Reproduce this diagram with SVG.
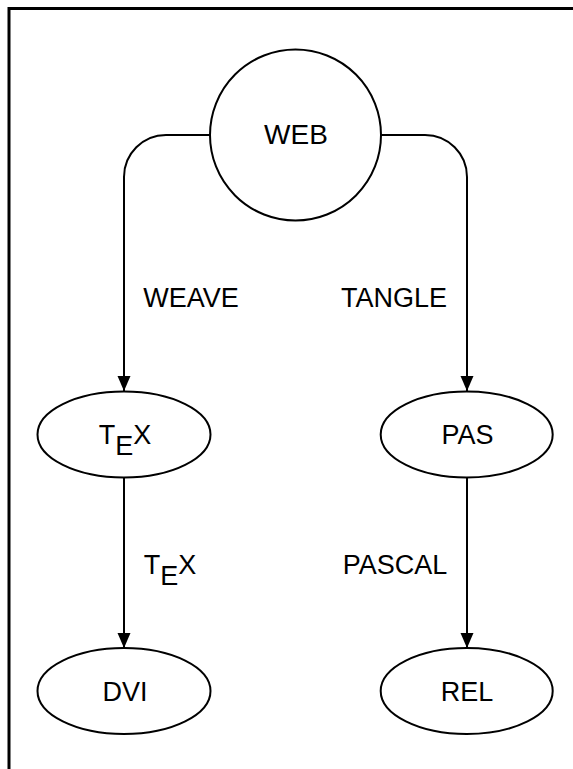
<svg xmlns="http://www.w3.org/2000/svg" width="573" height="769" viewBox="0 0 573 769">
  <style>
    .shape { fill: #ffffff; stroke: #000000; stroke-width: 2; }
    .edge { fill: none; stroke: #000000; stroke-width: 2; }
    .label { font-family: "Liberation Sans", Arial, sans-serif; font-size: 27px; fill: #000000; text-anchor: middle; }
  </style>
  <defs>
    <marker id="arrow" markerUnits="userSpaceOnUse" markerWidth="16" markerHeight="14" refX="15" refY="6.5" orient="auto">
      <path d="M0,0 L15,6.5 L0,13 Z" fill="#000000"/>
    </marker>
  </defs>
  <rect width="573" height="769" fill="#ffffff"/>

  <!-- frame -->
  <path d="M9,769 V8.5 H573" fill="none" stroke="#000000" stroke-width="3"/>

  <!-- connectors -->
  <g id="connectors">
    <path class="edge" d="M210,135 H166 A42,42 0 0 0 124,177 V391" marker-end="url(#arrow)"/>
    <path class="edge" d="M381,135 H425 A42,42 0 0 1 467,177 V391" marker-end="url(#arrow)"/>
    <path class="edge" d="M124,477 V648" marker-end="url(#arrow)"/>
    <path class="edge" d="M467,477 V648" marker-end="url(#arrow)"/>
    <text class="label" x="191" y="307">WEAVE</text>
    <text class="label" x="394" y="307">TANGLE</text>
    <text class="label" x="170" y="574">T<tspan dy="11">E</tspan><tspan dy="-11">X</tspan></text>
    <text class="label" x="395" y="574">PASCAL</text>
  </g>

  <g id="web">
    <circle class="shape" cx="295.5" cy="135" r="85.5"/>
    <text class="label" x="296" y="144" style="font-size:28px">WEB</text>
  </g>
  <g id="tex">
    <ellipse class="shape" cx="124" cy="434.5" rx="86.5" ry="43"/>
    <text class="label" x="125" y="444">T<tspan dy="11">E</tspan><tspan dy="-11">X</tspan></text>
  </g>
  <g id="pas">
    <ellipse class="shape" cx="466.7" cy="434.5" rx="86" ry="43"/>
    <text class="label" x="467.5" y="444">PAS</text>
  </g>
  <g id="dvi">
    <ellipse class="shape" cx="124" cy="691" rx="86.5" ry="43"/>
    <text class="label" x="125" y="701">DVI</text>
  </g>
  <g id="rel">
    <ellipse class="shape" cx="466.7" cy="691" rx="86" ry="43"/>
    <text class="label" x="467" y="701">REL</text>
  </g>
</svg>
